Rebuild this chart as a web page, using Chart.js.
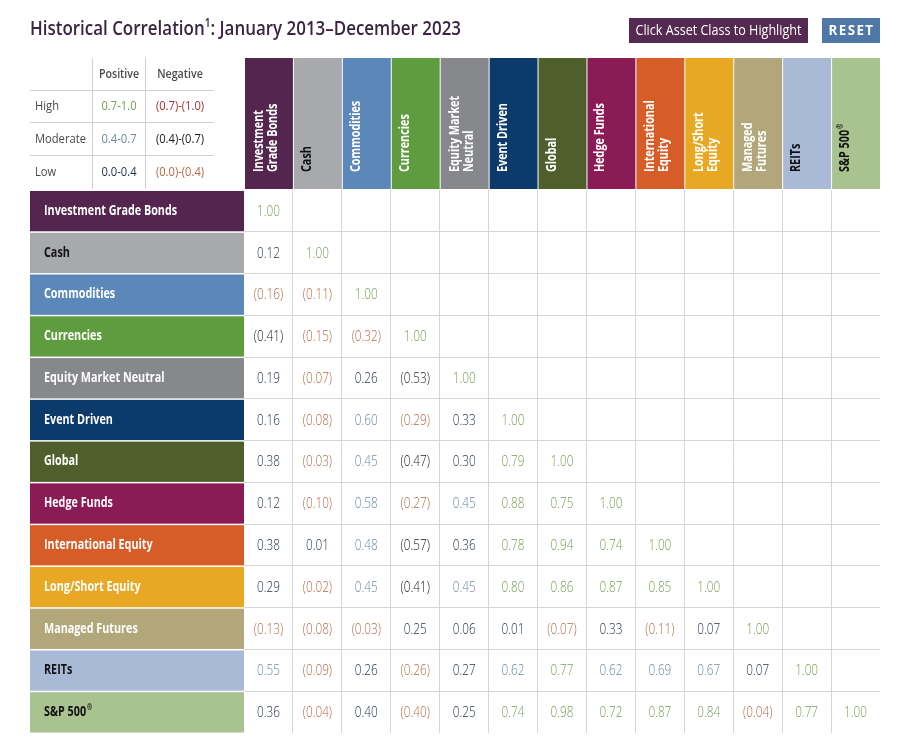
<!DOCTYPE html>
<html>
<head>
<meta charset="utf-8">
<title>Historical Correlation</title>
<script src="https://cdn.jsdelivr.net/npm/chart.js@4.4.0/dist/chart.umd.min.js"></script>
<style>
  html, body { margin: 0; padding: 0; background: #fff; }
  #wrap { position: relative; width: 911px; height: 755px; }
</style>
</head>
<body>
<div id="wrap"><canvas id="corrChart"></canvas></div>
<script>
// asset classes (rows and columns share the same order)
const assets = ['Investment Grade Bonds', 'Cash', 'Commodities', 'Currencies', 'Equity Market Neutral',
  'Event Driven', 'Global', 'Hedge Funds', 'International Equity', 'Long/Short Equity',
  'Managed Futures', 'REITs', 'S&P 500®'];
const headLines = [['Investment', 'Grade Bonds'], ['Cash'], ['Commodities'], ['Currencies'],
  ['Equity Market', 'Neutral'], ['Event Driven'], ['Global'], ['Hedge Funds'],
  ['International', 'Equity'], ['Long/Short', 'Equity'], ['Managed', 'Futures'], ['REITs'], ['S&P 500®']];
const assetColors = ['#54264f', '#a7a9ac', '#5b88b9', '#5f9b3f', '#87888b', '#0c3a6b', '#4f5f2b',
  '#8a1b55', '#d65d28', '#e8a823', '#b1a77b', '#a8bad6', '#a8c290'];
const darkText = ['Cash', 'REITs', 'S&P 500®'];

// lower triangle of the correlation matrix, one row per asset
const rowIGB      = [1.00];
const rowCash     = [0.12, 1.00];
const rowCommod   = [-0.16, -0.11, 1.00];
const rowCurr     = [-0.41, -0.15, -0.32, 1.00];
const rowEMN      = [0.19, -0.07, 0.26, -0.53, 1.00];
const rowEvent    = [0.16, -0.08, 0.60, -0.29, 0.33, 1.00];
const rowGlobal   = [0.38, -0.03, 0.45, -0.47, 0.30, 0.79, 1.00];
const rowHedge    = [0.12, -0.10, 0.58, -0.27, 0.45, 0.88, 0.75, 1.00];
const rowIntl     = [0.38, 0.01, 0.48, -0.57, 0.36, 0.78, 0.94, 0.74, 1.00];
const rowLongShort= [0.29, -0.02, 0.45, -0.41, 0.45, 0.80, 0.86, 0.87, 0.85, 1.00];
const rowManaged  = [-0.13, -0.08, -0.03, 0.25, 0.06, 0.01, -0.07, 0.33, -0.11, 0.07, 1.00];
const rowREITs    = [0.55, -0.09, 0.26, -0.26, 0.27, 0.62, 0.77, 0.62, 0.69, 0.67, 0.07, 1.00];
const rowSP500    = [0.36, -0.04, 0.40, -0.40, 0.25, 0.74, 0.98, 0.72, 0.87, 0.84, -0.04, 0.77, 1.00];

// legend table
const legendLevels = ['High', 'Moderate', 'Low'];
const legendPositive = ['0.7-1.0', '0.4-0.7', '0.0-0.4'];
const legendNegative = ['(0.7)-(1.0)', '(0.4)-(0.7)', '(0.0)-(0.4)'];

const corrRows = [rowIGB, rowCash, rowCommod, rowCurr, rowEMN, rowEvent, rowGlobal,
  rowHedge, rowIntl, rowLongShort, rowManaged, rowREITs, rowSP500];

const tone = {
  posHigh: '#7a9c55', posMid: '#6c87a7', posLow: '#1e2e4b',
  negLow: '#b46a48', negMid: '#1a1a1a', negHigh: '#a8333a'
};
const legendTones = [[tone.posHigh, tone.negHigh], [tone.posMid, tone.negMid], [tone.posLow, tone.negLow]];

function toneFor(v) {
  const a = Math.abs(v);
  if (v >= 0) return a >= 0.7 ? tone.posHigh : (a > 0.4 ? tone.posMid : tone.posLow);
  return a >= 0.7 ? tone.negHigh : (a > 0.4 ? tone.negMid : tone.negLow);
}
function fmt(v) {
  return v < 0 ? '(' + Math.abs(v).toFixed(2) + ')' : v.toFixed(2);
}

// build the scatter points from the rows
const cells = [];
corrRows.forEach((row, r) => {
  row.forEach((v, c) => cells.push({ x: assets[c], y: assets[r], v: v }));
});

// draws text squeezed horizontally by k, handles a trailing superscript ®
function squeeze(ctx, text, x, y, k) {
  const w = ctx.measureText(text).width;
  ctx.fillText(text, x, y, w * k);
  return w * k;
}
function drawLabel(ctx, text, x, y, k) {
  const parts = text.split('®');
  const w = squeeze(ctx, parts[0], x, y, k);
  if (parts.length > 1) {
    const f = ctx.font;
    ctx.font = f.replace('14px', '8px');
    squeeze(ctx, '®', x + w + 1, y - 4, k);
    ctx.font = f;
  }
}

const tablePlugin = {
  id: 'tableDecor',
  afterDatasetsDraw(chart) {
    const ctx = chart.ctx;
    const meta = chart.getDatasetMeta(0);
    ctx.save();
    ctx.font = '300 14px "Open Sans"';
    ctx.textAlign = 'center';
    ctx.textBaseline = 'middle';
    meta.data.forEach((pt, i) => {
      const v = cells[i].v;
      ctx.fillStyle = toneFor(v);
      squeeze(ctx, fmt(v), pt.x, pt.y + 1, 0.84);
    });
    ctx.restore();
  },
  afterDraw(chart) {
    const ctx = chart.ctx;
    const xs = chart.scales.x, ys = chart.scales.y;
    const colW = (xs.right - xs.left) / assets.length;
    const rowH = (ys.bottom - ys.top) / assets.length;
    ctx.save();

    // row labels
    ctx.textAlign = 'left';
    ctx.textBaseline = 'middle';
    assets.forEach((name, i) => {
      const cy = ys.getPixelForValue(i);
      ctx.fillStyle = assetColors[i];
      ctx.fillRect(30, cy - rowH / 2 + 1, xs.left - 30, rowH - 1.5);
      ctx.fillStyle = darkText.includes(name) ? '#111' : '#fff';
      ctx.font = 'bold 14px "Open Sans"';
      drawLabel(ctx, name, 44, cy, 0.77);
    });

    // column headers
    assets.forEach((name, i) => {
      const left = xs.getPixelForValue(i) - colW / 2;
      ctx.fillStyle = assetColors[i];
      ctx.fillRect(left + 1, 58, colW - 1, ys.top - 59);
      ctx.fillStyle = darkText.includes(name) ? '#111' : '#fff';
      ctx.font = 'bold 14px "Open Sans"';
      const lines = headLines[i];
      const offs = lines.length === 1 ? [14] : [15, 29];
      lines.forEach((ln, j) => {
        ctx.save();
        ctx.translate(left + offs[j], 172);
        ctx.rotate(-Math.PI / 2);
        drawLabel(ctx, ln, 0, 0, 0.77);
        ctx.restore();
      });
    });

    // legend table
    ctx.strokeStyle = '#d0d0d0';
    ctx.lineWidth = 1;
    ctx.beginPath();
    [90.5, 122.5, 155.5].forEach(y => { ctx.moveTo(30, y); ctx.lineTo(214, y); });
    [92.5, 145.5].forEach(x => { ctx.moveTo(x, 58); ctx.lineTo(x, 189); });
    ctx.stroke();
    ctx.font = '600 13px "Open Sans"';
    ctx.fillStyle = '#4a4a4a';
    ctx.textAlign = 'center';
    squeeze(ctx, 'Positive', 119, 74, 0.82);
    squeeze(ctx, 'Negative', 180, 74, 0.82);
    legendLevels.forEach((lvl, i) => {
      const y = 106 + i * 33;
      ctx.font = '13px "Open Sans"';
      ctx.textAlign = 'left';
      ctx.fillStyle = '#4a4a4a';
      squeeze(ctx, lvl, 35, y, 0.86);
      ctx.textAlign = 'center';
      ctx.fillStyle = legendTones[i][0];
      squeeze(ctx, legendPositive[i], 119, y, 0.86);
      ctx.fillStyle = legendTones[i][1];
      squeeze(ctx, legendNegative[i], 180, y, 0.86);
    });

    // title with superscript
    ctx.fillStyle = '#3b2344';
    ctx.textAlign = 'left';
    ctx.textBaseline = 'alphabetic';
    const t1 = 'Historical Correlation', t3 = ': January 2013–December 2023';
    ctx.font = '600 20px "Open Sans"';
    const w1 = ctx.measureText(t1).width, w3 = ctx.measureText(t3).width;
    ctx.font = '600 12px "Open Sans"';
    const w2 = ctx.measureText('1').width;
    const k = 431 / (w1 + w2 + w3);
    ctx.font = '600 20px "Open Sans"';
    ctx.fillText(t1, 30, 35, w1 * k);
    ctx.fillText(t3, 30 + (w1 + w2) * k, 35, w3 * k);
    ctx.font = '600 12px "Open Sans"';
    ctx.fillText('1', 30 + w1 * k, 27, w2 * k);

    // buttons
    ctx.fillStyle = '#552a52';
    ctx.fillRect(629, 18, 179, 25);
    ctx.fillStyle = '#4f78a6';
    ctx.fillRect(822, 18, 58, 25);
    ctx.fillStyle = '#fff';
    ctx.textAlign = 'center';
    ctx.textBaseline = 'middle';
    ctx.font = '14px "Open Sans"';
    ctx.fillText('Click Asset Class to Highlight', 718.5, 31, 166);
    ctx.font = 'bold 14px "Open Sans"';
    ctx.letterSpacing = '1.5px';
    ctx.fillText('RESET', 851.5, 31, 46);
    ctx.letterSpacing = '0px';

    ctx.restore();
  }
};

const gridColor = c => (c.type !== 'tick' || c.index === 0) ? 'rgba(0,0,0,0)' : '#d6d6d6';

new Chart(document.getElementById('corrChart'), {
  type: 'scatter',
  data: {
    datasets: [{
      data: cells,
      pointRadius: 0,
      pointHoverRadius: 0
    }]
  },
  options: {
    responsive: true,
    maintainAspectRatio: false,
    animation: false,
    events: [],
    layout: { padding: { left: 244, top: 190, right: 31, bottom: 22 } },
    scales: {
      x: {
        type: 'category',
        labels: assets,
        offset: true,
        ticks: { display: false },
        grid: { offset: true, drawTicks: false, color: gridColor },
        border: { display: false }
      },
      y: {
        type: 'category',
        labels: assets,
        offset: true,
        ticks: { display: false },
        grid: { offset: true, drawTicks: false, color: gridColor },
        border: { display: false }
      }
    },
    plugins: {
      legend: { display: false },
      tooltip: { enabled: false }
    }
  },
  plugins: [tablePlugin]
});
</script>
</body>
</html>
